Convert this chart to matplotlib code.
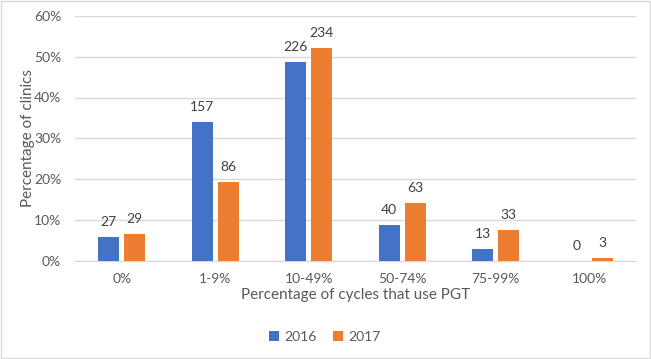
import numpy as np
import matplotlib.pyplot as plt

categories = ["0%", "1-9%", "10-49%", "50-74%", "75-99%", "100%"]
pct_2016 = [5.8, 33.9, 48.8, 8.6, 2.8, 0.0]
pct_2017 = [6.5, 19.2, 52.2, 14.1, 7.4, 0.7]
n_2016 = [27, 157, 226, 40, 13, 0]
n_2017 = [29, 86, 234, 63, 33, 3]

plt.rcParams["font.family"] = ["Lato", "DejaVu Sans"]
text_color = "#595959"

fig = plt.figure(figsize=(6.51, 3.59), dpi=100)
ax = fig.add_axes([75 / 651, 1 - 260.5 / 359, 561 / 651, 244.5 / 359])

x = np.arange(len(categories))
w = 0.225
gap = 0.055
b1 = ax.bar(x - (w + gap) / 2, pct_2016, w, color="#4472C4", label="2016", zorder=3)
b2 = ax.bar(x + (w + gap) / 2, pct_2017, w, color="#ED7D31", label="2017", zorder=3)

for bars, counts in ((b1, n_2016), (b2, n_2017)):
    for rect, n in zip(bars, counts):
        ax.text(rect.get_x() + rect.get_width() / 2, rect.get_height() + 2.2, str(n),
                ha="center", va="bottom", fontsize=10, color="#404040")

ax.set_xlim(-0.5, len(categories) - 0.5)
ax.set_ylim(0, 60)
ax.set_yticks(range(0, 61, 10))
ax.set_yticklabels([f"{v}%" for v in range(0, 61, 10)])
ax.set_xticks(x)
ax.set_xticklabels(categories)
ax.tick_params(length=0, colors=text_color, labelsize=10)
ax.tick_params(axis="x", pad=9)
ax.tick_params(axis="y", pad=10)
ax.grid(axis="y", color="#D9D9D9", linewidth=1, zorder=0)
for s in ("top", "right", "left"):
    ax.spines[s].set_visible(False)
ax.spines["bottom"].set_color("#D9D9D9")

ax.set_xlabel("Percentage of cycles that use PGT", fontsize=11, color=text_color, labelpad=2)
ax.set_ylabel("Percentage of clinics", fontsize=11, color=text_color, va="center")
ax.yaxis.set_label_coords(-0.084, 0.5)

fig.legend(handles=[b1, b2], loc="center", bbox_to_anchor=(325 / 651, 1 - 337 / 359),
           ncol=2, frameon=False, fontsize=10, labelcolor=text_color,
           handlelength=0.7, handleheight=0.7, handletextpad=0.4, columnspacing=1.2)

fig.patches.append(plt.Rectangle((0.001, 0.002), 0.997, 0.995, transform=fig.transFigure,
                                 fill=False, edgecolor="#D9D9D9", linewidth=1))

fig.savefig("out.png", dpi=100)
